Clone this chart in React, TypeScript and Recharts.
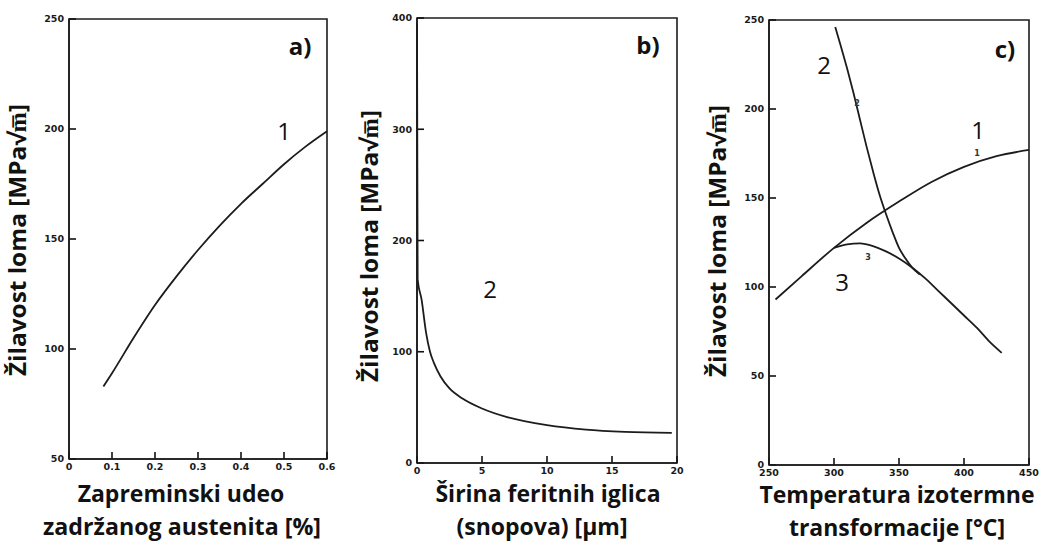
import React from 'react';
import { LineChart, Line, XAxis, YAxis, ReferenceArea, ReferenceLine } from 'recharts';

// a) toughness vs retained austenite fraction
const austeniteX = [0.08, 0.1, 0.15, 0.2, 0.25, 0.3, 0.35, 0.4, 0.45, 0.5, 0.55, 0.6];
const austeniteK = [83, 89, 105, 120, 133, 145, 156, 166, 175, 184, 192, 199];
const aXTicks = [0, 0.1, 0.2, 0.3, 0.4, 0.5, 0.6];
const aYTicks = [50, 100, 150, 200, 250];

// b) toughness vs ferrite lath (packet) width
const lathX = [0, 0.05, 0.35, 0.7, 1, 1.3, 1.8, 2.5, 3.5, 5, 7, 10, 13, 16, 19.6];
const lathK = [395, 165, 147, 117, 100, 90, 78, 67, 58, 49, 41, 34, 30, 28, 27];
const bXTicks = [0, 5, 10, 15, 20];
const bYTicks = [0, 100, 200, 300, 400];

// c) toughness vs isothermal transformation temperature
const curve1T = [255, 275, 300, 325, 350, 375, 400, 425, 450];
const curve1K = [93, 106, 122, 136, 148, 159, 167.5, 173.5, 177];
const curve2T = [301, 305, 310, 315, 320, 325, 330, 335, 340, 345, 350, 355, 360, 366];
const curve2K = [246, 236, 223, 209, 194, 179, 165, 152, 141, 131, 122, 116, 111, 107];
const curve3T = [300, 310, 320, 330, 340, 350, 360, 370, 380, 390, 400, 410, 420, 429];
const curve3K = [122, 124, 124.5, 123, 120, 116, 111, 105, 98, 91, 84, 77, 69, 63];
const cXTicks = [250, 300, 350, 400, 450];
const cYTicks = [0, 50, 100, 150, 200, 250];

const toPoints = (xs: number[], ys: number[]) => xs.map((x, i) => ({ x, y: ys[i] }));

const INK = '#1c1c1c';
const MARK = 7;
const tickFont = { fontFamily: 'DejaVu Sans', fontSize: 9.5, fontWeight: 700, fill: '#1a1a1a' };

// short inward tick marks: a reference line at each tick, drawn only next to the axis
const XMark = (props: any) => {
  const { x1, y1, y2 } = props;
  const bottom = Math.max(y1, y2);
  return <line x1={x1} x2={x1} y1={bottom} y2={bottom - MARK} stroke="#111" strokeWidth={1.6} />;
};

const YMark = (props: any) => {
  const { x1, x2, y1 } = props;
  const leftEdge = Math.min(x1, x2);
  return <line x1={leftEdge} x2={leftEdge + MARK} y1={y1} y2={y1} stroke="#111" strokeWidth={1.6} />;
};

interface PanelProps {
  left: number;
  width: number;
  margin: { top: number; right: number; bottom: number; left: number };
  xDomain: [number, number];
  xTicks: number[];
  yDomain: [number, number];
  yTicks: number[];
  series: { x: number; y: number }[][];
}

// axes get 1px of room so they still render; margins are reduced by that 1px
const Panel: React.FC<PanelProps> = ({ left, width, margin, xDomain, xTicks, yDomain, yTicks, series }) => (
  <div style={{ position: 'absolute', left, top: 0 }}>
    <LineChart
      width={width}
      height={545}
      margin={{ ...margin, left: margin.left - 1, bottom: margin.bottom - 1 }}
    >
      <XAxis
        type="number"
        dataKey="x"
        domain={xDomain}
        ticks={xTicks}
        interval={0}
        height={1}
        tickSize={0}
        tickMargin={4}
        tickLine={false}
        axisLine={{ stroke: INK, strokeWidth: 1.6 }}
        tick={tickFont}
      />
      <YAxis
        type="number"
        dataKey="y"
        domain={yDomain}
        ticks={yTicks}
        interval={0}
        width={1}
        tickSize={0}
        tickMargin={5}
        tickLine={false}
        axisLine={{ stroke: INK, strokeWidth: 1.6 }}
        tick={tickFont}
      />
      <ReferenceArea
        x1={xDomain[0]}
        x2={xDomain[1]}
        y1={yDomain[0]}
        y2={yDomain[1]}
        fill="none"
        fillOpacity={0}
        stroke={INK}
        strokeWidth={1.6}
      />
      {xTicks.map((t) => (
        <ReferenceLine key={`xm${t}`} x={t} stroke="#111" shape={XMark} />
      ))}
      {yTicks.map((t) => (
        <ReferenceLine key={`ym${t}`} y={t} stroke="#111" shape={YMark} />
      ))}
      {series.map((s, i) => (
        <Line
          key={i}
          data={s}
          dataKey="y"
          type="monotone"
          dot={false}
          stroke={INK}
          strokeWidth={1.8}
          isAnimationActive={false}
        />
      ))}
    </LineChart>
  </div>
);

const titleFont = { fontFamily: 'Open Sans', fontWeight: 700, fontSize: 23, fill: '#111' } as const;
const numFont = { fontFamily: 'Open Sans', fontWeight: 400, fontSize: 24, fill: '#111' } as const;
const smallFont = { fontFamily: 'DejaVu Sans', fontWeight: 700, fontSize: 8, fill: '#333' } as const;

const YTitle = ({ x, y }: { x: number; y: number }) => (
  <text
    transform={`translate(${x},${y}) rotate(-90)`}
    textAnchor="middle"
    dominantBaseline="middle"
    {...titleFont}
    textLength={272}
    lengthAdjust="spacingAndGlyphs"
  >
    Žilavost loma [MPa√m̅]
  </text>
);

export default function App() {
  return (
    <div style={{ position: 'fixed', left: 0, top: 0, width: 1041, height: 545, background: '#fff' }}>
      <Panel
        left={0}
        width={345}
        margin={{ top: 19, right: 18, bottom: 86, left: 69 }}
        xDomain={[0, 0.6]}
        xTicks={aXTicks}
        yDomain={[50, 250]}
        yTicks={aYTicks}
        series={[toPoints(austeniteX, austeniteK)]}
      />
      <Panel
        left={345}
        width={345}
        margin={{ top: 18, right: 13, bottom: 82, left: 72 }}
        xDomain={[0, 20]}
        xTicks={bXTicks}
        yDomain={[0, 400]}
        yTicks={bYTicks}
        series={[toPoints(lathX, lathK)]}
      />
      <Panel
        left={690}
        width={351}
        margin={{ top: 20, right: 12, bottom: 80, left: 79 }}
        xDomain={[250, 450]}
        xTicks={cXTicks}
        yDomain={[0, 250]}
        yTicks={cYTicks}
        series={[toPoints(curve1T, curve1K), toPoints(curve2T, curve2K), toPoints(curve3T, curve3K)]}
      />
      <svg width={1041} height={545} style={{ position: 'absolute', left: 0, top: 0, pointerEvents: 'none' }}>
        <YTitle x={20} y={240} />
        <YTitle x={372} y={246} />
        <YTitle x={720} y={241} />

        <text x={181} y={502} textAnchor="middle" {...titleFont}>Zapreminski udeo</text>
        <text x={182} y={535} textAnchor="middle" {...titleFont} textLength={278} lengthAdjust="spacingAndGlyphs">zadržanog austenita [%]</text>
        <text x={548} y={502} textAnchor="middle" {...titleFont}>Širina feritnih iglica</text>
        <text x={542} y={535} textAnchor="middle" {...titleFont}>(snopova) [μm]</text>
        <text x={897} y={503} textAnchor="middle" {...titleFont}>Temperatura izotermne</text>
        <text x={897} y={536} textAnchor="middle" {...titleFont}>transformacije [°C]</text>

        <text x={300} y={55} textAnchor="middle" {...titleFont} fontSize={24}>a)</text>
        <text x={648} y={54} textAnchor="middle" {...titleFont} fontSize={24}>b)</text>
        <text x={1005} y={58} textAnchor="middle" {...titleFont} fontSize={24}>c)</text>

        <text x={284} y={140} textAnchor="middle" {...numFont}>1</text>
        <text x={490} y={298} textAnchor="middle" {...numFont}>2</text>
        <text x={824} y={74} textAnchor="middle" {...numFont}>2</text>
        <text x={978} y={139} textAnchor="middle" {...numFont}>1</text>
        <text x={842} y={291} textAnchor="middle" {...numFont}>3</text>

        <text x={857} y={106} textAnchor="middle" {...smallFont}>2</text>
        <text x={977} y={156} textAnchor="middle" {...smallFont}>1</text>
        <text x={868} y={260} textAnchor="middle" {...smallFont}>3</text>
      </svg>
    </div>
  );
}
